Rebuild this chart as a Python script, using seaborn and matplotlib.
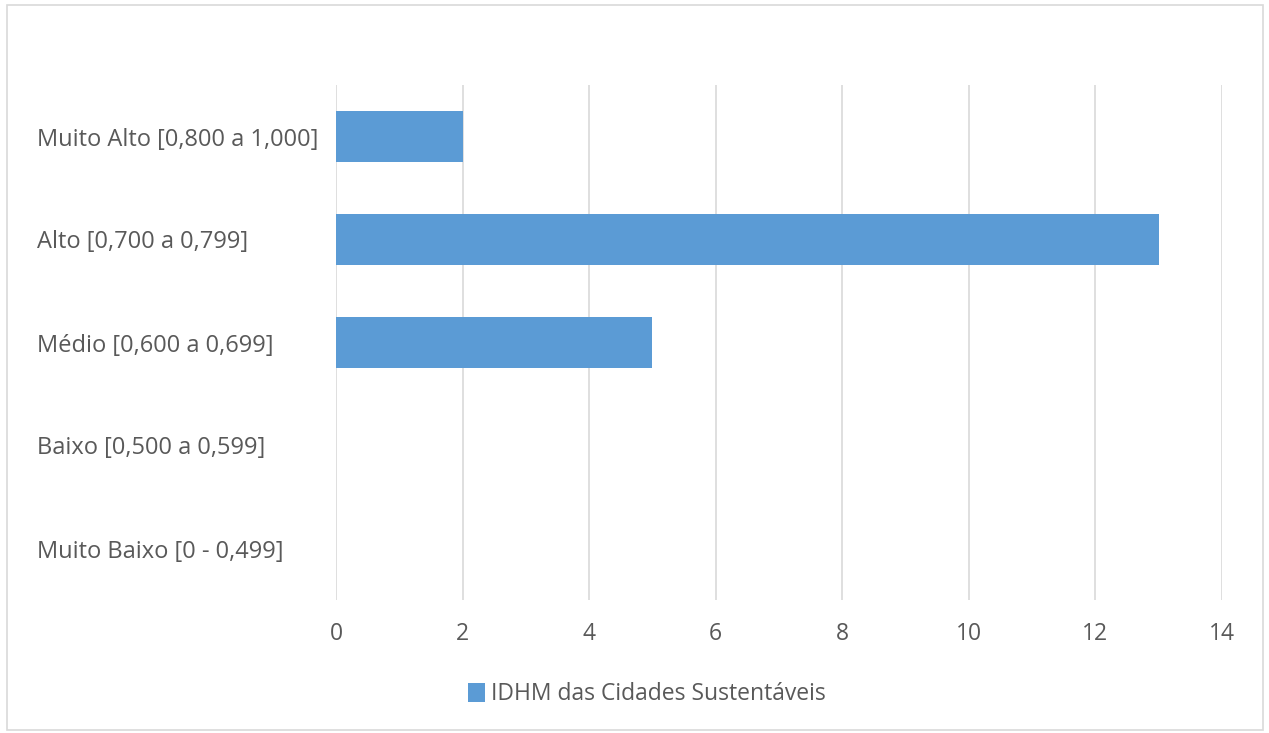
import matplotlib
matplotlib.use("Agg")
import matplotlib.pyplot as plt
import seaborn as sns
import pandas as pd
from matplotlib.patches import Rectangle

categories = [
    "Muito Alto [0,800 a 1,000]",
    "Alto [0,700 a 0,799]",
    "Médio [0,600 a 0,699]",
    "Baixo [0,500 a 0,599]",
    "Muito Baixo [0 - 0,499]",
]
values = [2, 13, 5, 0, 0]
series_name = "IDHM das Cidades Sustentáveis"
x_ticks = [0, 2, 4, 6, 8, 10, 12, 14]

sns.set_theme(style="white")
plt.rcParams["font.family"] = ["Open Sans", "DejaVu Sans"]

text_color = "#595959"
bar_color = "#5B9BD5"
grid_color = "#D9D9D9"
fs = 16.5

df = pd.DataFrame({"categoria": categories, "valor": values, "serie": series_name})

fig = plt.figure(figsize=(12.69, 7.33), dpi=100)
ax = fig.add_axes([336 / 1269, 1 - 600 / 733, (1222 - 336) / 1269, (600 - 85) / 733])

sns.barplot(data=df, x="valor", y="categoria", hue="serie", orient="h",
            palette=[bar_color], width=0.49, ax=ax, saturation=1, legend=True,
            linewidth=0)

ax.set_xlim(0, 14)
ax.set_xticks(x_ticks)
ax.set_xticklabels([str(t) for t in x_ticks])
ax.set_xlabel("")
ax.set_ylabel("")
ax.xaxis.grid(True, color=grid_color, linewidth=1.2)
ax.yaxis.grid(False)
ax.set_axisbelow(True)
for s in ax.spines.values():
    s.set_visible(False)
ax.tick_params(axis="both", length=0, labelsize=fs, colors=text_color)
ax.tick_params(axis="y", labelsize=17)
ax.tick_params(axis="x", pad=16)
# category labels left-aligned in the left margin
ax.tick_params(axis="y", pad=(336 - 37) * 0.72)
for lbl in ax.get_yticklabels():
    lbl.set_horizontalalignment("left")

leg = ax.legend(loc="center", bbox_to_anchor=(647 / 1269, 1 - 694 / 733),
                bbox_transform=fig.transFigure, frameon=False, fontsize=fs,
                handlelength=0.75, handleheight=0.9, handletextpad=0.25)
for t in leg.get_texts():
    t.set_color(text_color)

# outer chart border
fig.patches.append(Rectangle((7 / 1269, 3 / 733), 1256 / 1269, 725 / 733,
                             transform=fig.transFigure, fill=False,
                             edgecolor=grid_color, linewidth=1.2))

fig.savefig("out.png", dpi=100, facecolor="white")
